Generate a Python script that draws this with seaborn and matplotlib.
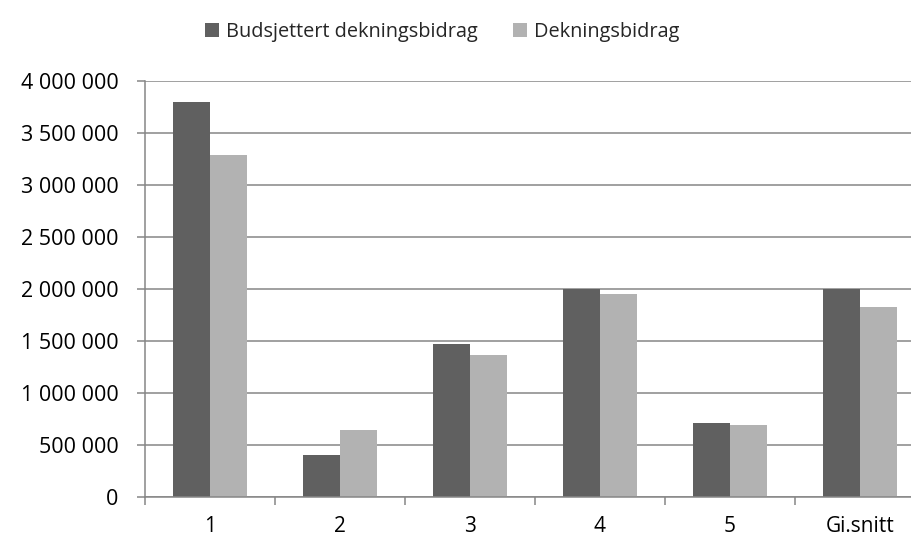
import matplotlib
matplotlib.use("Agg")
import matplotlib.pyplot as plt
import seaborn as sns
import pandas as pd
from matplotlib.ticker import FuncFormatter, FixedLocator
from matplotlib.patches import Patch

categories = ["1", "2", "3", "4", "5", "Gi.snitt"]
series_names = ["Budsjettert dekningsbidrag", "Dekningsbidrag"]
budsjettert = [3800000, 400000, 1468000, 2000000, 714000, 2000000]
dekning = [3290000, 641000, 1368000, 1952000, 692000, 1824000]
colors = ["#606060", "#b2b2b2"]

df = pd.DataFrame({
    "Kategori": categories * 2,
    "Serie": [series_names[0]] * len(categories) + [series_names[1]] * len(categories),
    "Verdi": budsjettert + dekning,
})

sns.set_theme(style="white")
plt.rcParams["font.family"] = ["Open Sans", "DejaVu Sans"]

fig = plt.figure(figsize=(9.12, 5.4), dpi=100)
ax = fig.add_axes([145 / 912, 43 / 540, 1 - 145 / 912, (497 - 81) / 540])

sns.barplot(data=df, x="Kategori", y="Verdi", hue="Serie", order=categories,
            hue_order=series_names, palette=colors, width=0.57, dodge=True,
            linewidth=0, saturation=1, ax=ax, legend=False)

grid_c = "#868686"
ax.set_ylim(0, 4000000)
ax.set_xlim(-0.5, -0.5 + (912 - 145) / 130)
ax.set_yticks(range(0, 4000001, 500000))
ax.yaxis.set_major_formatter(FuncFormatter(lambda v, p: f"{int(v):,}".replace(",", " ")))
ax.grid(axis="y", color=grid_c, linewidth=1.1)
ax.set_axisbelow(True)
for s in ["top", "right"]:
    ax.spines[s].set_visible(False)
for s in ["left", "bottom"]:
    ax.spines[s].set_color(grid_c)
    ax.spines[s].set_linewidth(1.1)

ax.set_xlabel("")
ax.set_ylabel("")
ax.tick_params(axis="y", which="major", length=6, width=1.1, color=grid_c, pad=13,
               labelsize=15.5, labelcolor="black", left=True)
ax.tick_params(axis="x", which="major", length=0, pad=14, labelsize=15, labelcolor="black")
ax.xaxis.set_minor_locator(FixedLocator([i - 0.5 for i in range(len(categories) + 1)]))
ax.tick_params(axis="x", which="minor", length=6, width=1.1, color=grid_c, bottom=True)

handles = [Patch(facecolor=c, edgecolor="none") for c in colors]
fig.legend(handles, series_names, loc="center", bbox_to_anchor=(442 / 912, 1 - 32 / 540),
           ncol=2, frameon=False, fontsize=14.3, handlelength=0.7, handleheight=0.7,
           handletextpad=0.35, columnspacing=1.8)

fig.savefig("out.png", dpi=100)
